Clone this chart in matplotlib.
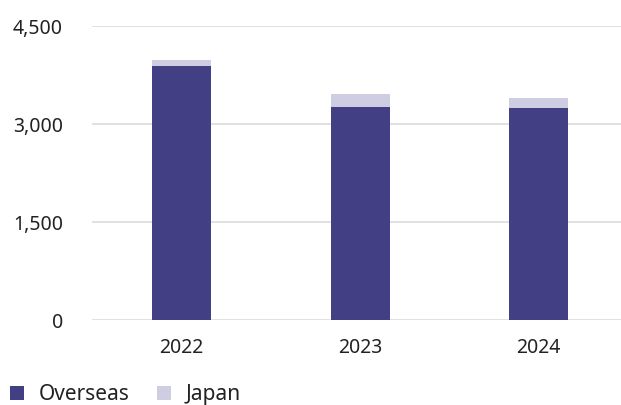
import matplotlib
matplotlib.use("Agg")
import matplotlib.pyplot as plt
import matplotlib.ticker as mticker
from matplotlib.patches import Patch

# Sales by region, per fiscal year
years = ["2022", "2023", "2024"]
overseas = [3890, 3270, 3255]
japan = [100, 200, 140]

OVERSEAS_COLOR = "#433f84"
JAPAN_COLOR = "#cfcde2"
GRID = "#dedede"
TEXT = "#222222"

plt.rcParams["font.family"] = ["Noto Sans", "DejaVu Sans"]

fig = plt.figure(figsize=(6.21, 4.05), dpi=100)
ax = fig.add_axes([92 / 621, 1 - 320 / 405, 1 - 92 / 621, (320 - 26.3) / 405])

x = range(len(years))
ax.bar(x, overseas, width=0.33, color=OVERSEAS_COLOR, zorder=3)
ax.bar(x, japan, width=0.33, bottom=overseas, color=JAPAN_COLOR, zorder=3)

ax.set_ylim(0, 4500)
ax.set_xlim(-0.50, 2.46)
ax.yaxis.set_major_locator(mticker.MultipleLocator(1500))
ax.yaxis.set_major_formatter(mticker.FuncFormatter(lambda v, _: f"{v:,.0f}"))
ax.set_xticks(list(x))
ax.set_xticklabels(years)

ax.grid(axis="y", color=GRID, linewidth=1.3, zorder=0)
for spine in ax.spines.values():
    spine.set_visible(False)
ax.tick_params(axis="both", length=0, labelsize=14, labelcolor=TEXT)
ax.tick_params(axis="y", pad=21)
ax.tick_params(axis="x", pad=13)

handles = [
    Patch(facecolor=OVERSEAS_COLOR, label="Overseas"),
    Patch(facecolor=JAPAN_COLOR, label="Japan"),
]
fig.legend(
    handles=handles,
    loc="lower left",
    bbox_to_anchor=(10 / 621, 0.0),
    ncol=2,
    frameon=False,
    fontsize=15,
    handlelength=0.67,
    handleheight=0.67,
    handletextpad=0.72,
    columnspacing=1.3,
    borderaxespad=0.0,
    borderpad=0.0,
    labelcolor=TEXT,
)

fig.savefig("out.png", dpi=100, facecolor="white")
